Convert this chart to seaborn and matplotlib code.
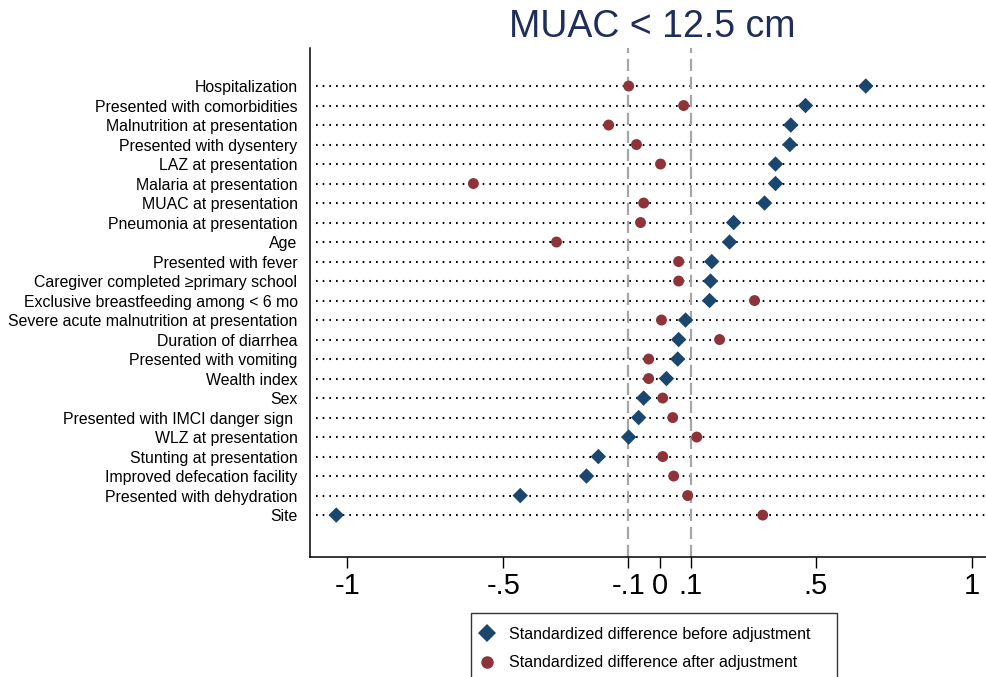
import matplotlib
matplotlib.use("Agg")
import matplotlib.pyplot as plt
import seaborn as sns
import pandas as pd

variables = [
    "Hospitalization", "Presented with comorbidities", "Malnutrition at presentation",
    "Presented with dysentery", "LAZ at presentation", "Malaria at presentation",
    "MUAC at presentation", "Pneumonia at presentation", "Age",
    "Presented with fever", "Caregiver completed \u2265primary school",
    "Exclusive breastfeeding among < 6 mo", "Severe acute malnutrition at presentation",
    "Duration of diarrhea", "Presented with vomiting", "Wealth index", "Sex",
    "Presented with IMCI danger sign ", "WLZ at presentation", "Stunting at presentation",
    "Improved defecation facility", "Presented with dehydration", "Site",
]
before = [0.66, 0.467, 0.420, 0.417, 0.371, 0.371, 0.336, 0.237, 0.224,
          0.167, 0.163, 0.160, 0.083, 0.061, 0.058, 0.022, -0.051, -0.067,
          -0.099, -0.196, -0.234, -0.446, -1.035]
after = [-0.099, 0.077, -0.163, -0.074, 0.003, -0.596, -0.051, -0.061, -0.330,
         0.061, 0.061, 0.304, 0.006, 0.192, -0.035, -0.035, 0.010, 0.042,
         0.119, 0.010, 0.045, 0.090, 0.330]
xticks = [-1, -0.5, -0.1, 0, 0.1, 0.5, 1]
xticklabels = ["-1", "-.5", "-.1", "0", ".1", ".5", "1"]
lab_before = "Standardized difference before adjustment"
lab_after = "Standardized difference after adjustment"

df = pd.DataFrame({
    "variable": variables * 2,
    "value": before + after,
    "type": [lab_before] * len(variables) + [lab_after] * len(variables),
})

sns.set_style("white")
plt.rcParams["font.family"] = ["Liberation Sans", "DejaVu Sans"]
plt.rcParams["text.color"] = "black"
plt.rcParams["axes.labelcolor"] = "black"
plt.rcParams["xtick.color"] = "black"
plt.rcParams["ytick.color"] = "black"

fig = plt.figure(figsize=(9.87, 6.77), dpi=100)
ax = fig.add_axes([310 / 987, 1 - 557 / 677, 1 - 310 / 987, (557 - 48) / 677])

n = len(variables)
xlim = (-1.119, 1.048)
# dotted row lines
for i in range(n):
    ax.plot([xlim[0] + 0.018, xlim[1]], [i, i], color="black", lw=1.5,
            linestyle=(0, (0.8, 2.4)), zorder=1)
for xv in (-0.1, 0.1):
    ax.axvline(xv, color="#a6a6a6", lw=1.6, linestyle=(0, (5.5, 2.6)), zorder=1.5)

sns.scatterplot(data=df, x="value", y="variable", hue="type", style="type",
                markers={lab_before: "D", lab_after: "o"},
                palette={lab_before: "#1b476f", lab_after: "#8f333b"},
                s=62, linewidth=0, ax=ax, zorder=3)

ax.set_xlim(*xlim)
ax.set_ylim(n - 1 + 2.15, -1.95)
ax.set_xticks(xticks)
ax.set_xticklabels(xticklabels, fontsize=21)
ax.set_xlabel("")
ax.set_ylabel("")
ax.tick_params(axis="x", direction="out", length=8, width=1, color="black", pad=3, bottom=True)
ax.tick_params(axis="y", length=0, pad=9, labelsize=11.4)
for sp in ("top", "right"):
    ax.spines[sp].set_visible(False)
for sp in ("left", "bottom"):
    ax.spines[sp].set_color("black")
    ax.spines[sp].set_linewidth(1.1)

x0 = 471 / 987
w = (837 - 471) / 987
sns.move_legend(ax, "upper left", bbox_to_anchor=(x0, 1 - 613 / 677, w, 0.0),
                bbox_transform=fig.transFigure, mode="expand", title=None, frameon=True,
                fontsize=11.5, borderpad=0.85, labelspacing=0.85, handletextpad=1.2,
                handlelength=0.3, fancybox=False, borderaxespad=0)
leg = ax.get_legend()
leg.get_frame().set_edgecolor("black")
leg.get_frame().set_linewidth(1.0)
for h in leg.legend_handles:
    try:
        h.set_markersize(9)
    except Exception:
        pass

fig.text(652.5 / 987, 1 - 37 / 677, "MUAC < 12.5 cm", ha="center", va="baseline",
         fontsize=27, color="#1f2d5a")

fig.savefig("out.png", dpi=100)
